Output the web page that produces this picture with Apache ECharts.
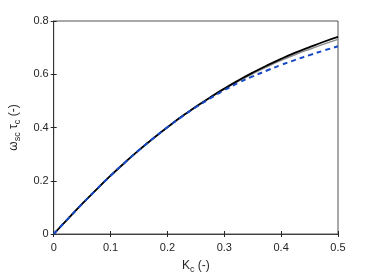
<!DOCTYPE html>
<html>
<head>
<meta charset="utf-8">
<script src="https://cdn.jsdelivr.net/npm/echarts@6/dist/echarts.min.js"></script>
<style>
html,body{margin:0;padding:0;background:#fff;}
#chart{width:374px;height:280px;}
</style>
</head>
<body>
<div id="chart"></div>
<script>
// K_c values
var kc = [0, 0.025, 0.05, 0.075, 0.1, 0.125, 0.15, 0.175, 0.2, 0.225, 0.25,
  0.275, 0.3, 0.325, 0.35, 0.375, 0.4, 0.425, 0.45, 0.475, 0.5];
// black solid
var blackY = [0, 0.057, 0.113, 0.167, 0.219, 0.268, 0.315, 0.359, 0.401, 0.441, 0.478,
  0.513, 0.546, 0.577, 0.606, 0.633, 0.658, 0.681, 0.702, 0.722, 0.740];
// gray solid
var grayY = [0, 0.057, 0.113, 0.167, 0.219, 0.268, 0.315, 0.359, 0.401, 0.441, 0.477,
  0.512, 0.544, 0.574, 0.602, 0.628, 0.652, 0.674, 0.694, 0.713, 0.731];
// blue dashed
var blueY = [0, 0.057, 0.113, 0.167, 0.219, 0.268, 0.315, 0.359, 0.401, 0.440, 0.476,
  0.509, 0.540, 0.568, 0.592, 0.614, 0.635, 0.654, 0.672, 0.689, 0.705];

var xTicks = [0, 0.1, 0.2, 0.3, 0.4, 0.5];
var yTicks = [0, 0.2, 0.4, 0.6, 0.8];

function pairs(ys) {
  return kc.map(function (k, i) { return [k, ys[i]]; });
}

var axisCol = '#262626';
var font = 'Liberation Sans, Arial, Helvetica, sans-serif';

var chart = echarts.init(document.getElementById('chart'));
chart.setOption({
  animation: false,
  grid: { left: 49, right: 36, top: 21, bottom: 46, show: true, borderColor: axisCol, borderWidth: 0.8 },
  xAxis: [{
    type: 'value', min: 0, max: 0.5, interval: 0.1,
    axisLine: { lineStyle: { color: axisCol, width: 0.8 } },
    axisTick: { inside: true, length: 3, lineStyle: { color: axisCol } },
    splitLine: { show: false },
    axisLabel: { color: axisCol, fontSize: 11, fontFamily: font, margin: 8,
      formatter: function (v) { var r = Math.round(v * 10) / 10; return xTicks.indexOf(r) >= 0 ? String(r) : ''; } },
    name: '{m|K}{s|c}{m| (-)}', nameLocation: 'middle', nameGap: 23,
    nameTextStyle: { rich: {
      m: { fontSize: 12, fontFamily: font, color: axisCol },
      s: { fontSize: 9, fontFamily: font, color: axisCol, padding: [8, 0, 0, 0] }
    } }
  }, {
    type: 'value', position: 'top', min: 0, max: 0.5, interval: 0.1,
    axisLine: { show: false }, axisLabel: { show: false }, splitLine: { show: false },
    axisTick: { inside: true, length: 3, lineStyle: { color: axisCol } }
  }],
  yAxis: [{
    type: 'value', min: 0, max: 0.8, interval: 0.2,
    axisLine: { show: true, lineStyle: { color: axisCol, width: 0.8 } },
    axisTick: { show: true, inside: true, length: 3, lineStyle: { color: axisCol } },
    splitLine: { show: false },
    axisLabel: { color: axisCol, fontSize: 11, fontFamily: font, margin: 5,
      formatter: function (v) { var r = Math.round(v * 10) / 10; return yTicks.indexOf(r) >= 0 ? String(r) : ''; } },
    name: '{m|ω}{s|sc}{m| τ}{s|c}{m| (-)}', nameLocation: 'middle', nameGap: 31, nameRotate: 90,
    nameTextStyle: { rich: {
      m: { fontSize: 12, fontFamily: font, color: axisCol },
      s: { fontSize: 9, fontFamily: font, color: axisCol, padding: [8, 0, 0, 0] }
    } }
  }, {
    type: 'value', position: 'right', min: 0, max: 0.8, interval: 0.2,
    axisLine: { show: false }, axisLabel: { show: false }, splitLine: { show: false },
    axisTick: { show: true, inside: true, length: 3, lineStyle: { color: axisCol } }
  }],
  series: [{
    type: 'line', data: pairs(grayY), showSymbol: false, smooth: true,
    lineStyle: { color: '#8c8c8c', width: 1.5 }, z: 2
  }, {
    type: 'line', data: pairs(blackY), showSymbol: false, smooth: true,
    lineStyle: { color: '#000000', width: 1.8 }, z: 3
  }, {
    type: 'line', data: pairs(blueY), showSymbol: false, smooth: true,
    lineStyle: { color: '#1448c4', width: 2, type: [5, 4] }, z: 4
  }]
});
</script>
</body>
</html>
